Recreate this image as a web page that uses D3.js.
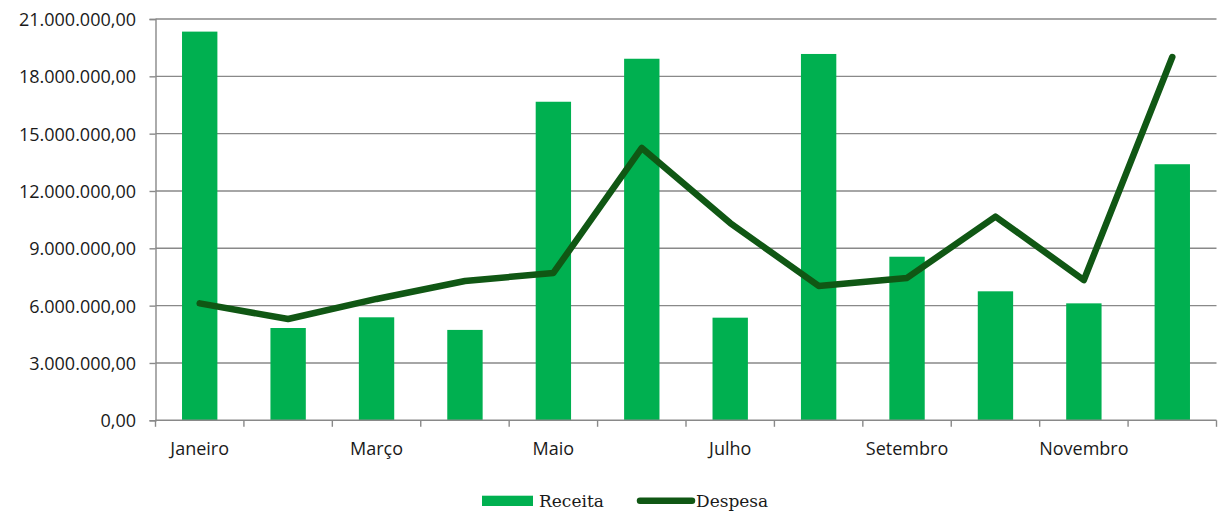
<!DOCTYPE html>
<html>
<head>
<meta charset="utf-8">
<script src="https://cdn.jsdelivr.net/npm/d3@7"></script>
<style>
  html, body { margin: 0; padding: 0; background: #ffffff; }
  svg { display: block; }
</style>
</head>
<body>
<svg id="chart" width="1218" height="513"></svg>
<script>
const months = ["Janeiro","Fevereiro","Março","Abril","Maio","Junho","Julho","Agosto","Setembro","Outubro","Novembro","Dezembro"];
const tickLabels = ["Janeiro","","Março","","Maio","","Julho","","Setembro","","Novembro",""];
const receita = [20340000, 4830000, 5390000, 4730000, 16670000, 18920000, 5370000, 19170000, 8560000, 6750000, 6120000, 13400000];
const despesa = [6120000, 5300000, 6350000, 7290000, 7710000, 14250000, 10320000, 7030000, 7450000, 10660000, 7340000, 19010000];
const yTicks = [0, 3000000, 6000000, 9000000, 12000000, 15000000, 18000000, 21000000];
const seriesNames = ["Receita", "Despesa"];

const barColor = "#00B050";
const lineColor = "#105714";
const axisColor = "#898989";

const svg = d3.select("#chart");
const pLeft = 155.5, pRight = 1216.5, pTop = 19, pBottom = 420.3;

const locale = d3.formatLocale({decimal: ",", thousands: ".", grouping: [3], currency: ["R$", ""]});
const fmt = locale.format(",.2f");

const x = d3.scaleBand().domain(months).range([pLeft, pRight]).paddingInner(0.6).paddingOuter(0.3);
const y = d3.scaleLinear().domain([0, 21000000]).range([pBottom, pTop]);

// gridlines
svg.append("g").selectAll("line").data(yTicks.slice(1)).join("line")
  .attr("x1", pLeft).attr("x2", pRight)
  .attr("y1", d => y(d)).attr("y2", d => y(d))
  .attr("stroke", axisColor).attr("stroke-width", 1.4);

// y axis
const yAxis = svg.append("g").attr("transform", `translate(${pLeft},0)`)
  .call(d3.axisLeft(y).tickValues(yTicks).tickFormat(fmt).tickSize(6).tickPadding(13.5));
yAxis.select(".domain").attr("stroke", axisColor).attr("stroke-width", 1.4);
yAxis.selectAll(".tick line").attr("stroke", axisColor).attr("stroke-width", 1.4);
yAxis.selectAll("text").attr("font-family", "'Open Sans', sans-serif").attr("font-size", 18)
  .attr("fill", "#1a1a1a").attr("dy", "0.36em");

// bars
svg.append("g").selectAll("rect").data(receita).join("rect")
  .attr("x", (d, i) => x(months[i]))
  .attr("width", x.bandwidth())
  .attr("y", d => y(d))
  .attr("height", d => y(0) - y(d))
  .attr("fill", barColor);

// x axis (tick marks between categories)
const xb = d3.scaleLinear().domain([0, months.length]).range([pLeft, pRight]);
const xAxis = svg.append("g").attr("transform", `translate(0,${pBottom})`);
xAxis.append("line").attr("x1", pLeft).attr("x2", pRight).attr("y1", 0).attr("y2", 0)
  .attr("stroke", axisColor).attr("stroke-width", 1.6);
xAxis.selectAll("line.tick").data(d3.range(months.length + 1)).join("line")
  .attr("class", "tick")
  .attr("x1", d => xb(d)).attr("x2", d => xb(d)).attr("y1", 0).attr("y2", 6.5)
  .attr("stroke", axisColor).attr("stroke-width", 1.4);
xAxis.selectAll("text").data(months).join("text")
  .attr("x", d => x(d) + x.bandwidth() / 2)
  .attr("y", 35)
  .attr("text-anchor", "middle")
  .attr("font-family", "'Open Sans', sans-serif").attr("font-size", 18).attr("fill", "#1a1a1a")
  .text((d, i) => tickLabels[i]);

// line
const line = d3.line()
  .x((d, i) => x(months[i]) + x.bandwidth() / 2)
  .y(d => y(d));
svg.append("path").datum(despesa)
  .attr("d", line)
  .attr("fill", "none")
  .attr("stroke", lineColor)
  .attr("stroke-width", 6.5)
  .attr("stroke-linejoin", "round")
  .attr("stroke-linecap", "round");

// legend
const lg = svg.append("g");
lg.append("rect").attr("x", 482).attr("y", 495.7).attr("width", 51).attr("height", 10.3).attr("fill", barColor);
lg.append("text").attr("x", 539).attr("y", 506.5)
  .attr("font-family", "'DejaVu Serif', serif").attr("font-size", 17).attr("fill", "#1a1a1a")
  .text(seriesNames[0]);
lg.append("line").attr("x1", 640).attr("x2", 692).attr("y1", 500.7).attr("y2", 500.7)
  .attr("stroke", lineColor).attr("stroke-width", 6.5).attr("stroke-linecap", "round");
lg.append("text").attr("x", 696).attr("y", 506.5)
  .attr("font-family", "'DejaVu Serif', serif").attr("font-size", 17).attr("fill", "#1a1a1a")
  .text(seriesNames[1]);
</script>
</body>
</html>
